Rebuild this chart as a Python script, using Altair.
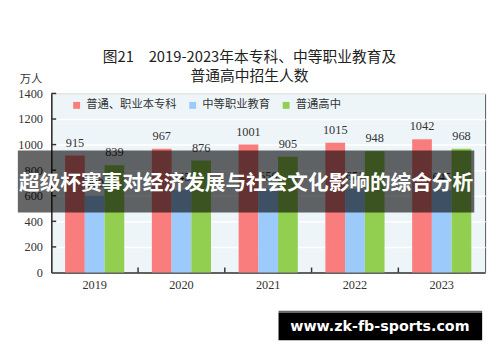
import altair as alt
import pandas as pd

years = ["2019", "2020", "2021", "2022", "2023"]
series = ["普通、职业本专科", "中等职业教育", "普通高中"]
higher_edu = [915, 967, 1001, 1015, 1042]
secondary_voc = [600, 645, 656, 651, 645]
high_school = [839, 876, 905, 948, 968]
colors = ["#fa7d7d", "#9ccafb", "#92cf50"]
y_ticks = [0, 200, 400, 600, 800, 1000, 1200, 1400]
title_lines = ["图21　2019-2023年本专科、中等职业教育及", "普通高中招生人数"]
banner_text = "超级杯赛事对经济发展与社会文化影响的综合分析"
watermark_text = "www.zk-fb-sports.com"

rows = []
for vals, s in zip([higher_edu, secondary_voc, high_school], series):
    for yr, v in zip(years, vals):
        rows.append({"year": yr, "series": s, "value": v})
df = pd.DataFrame(rows)

W, H = 441, 182
serif = "Liberation Serif, Noto Sans CJK SC"
cjk = "Noto Sans CJK SC"

x_scale = alt.Scale(domain=years, paddingInner=0, paddingOuter=0)
x_axis = alt.Axis(title=None, labelFont=serif, labelFontSize=12.5, labelColor="#333",
                  labelPadding=6, ticks=False, domainColor="#333", domainWidth=1.5,
                  labelAngle=0, grid=False)
y_scale = alt.Scale(domain=[0, 1400])
y_axis = alt.Axis(values=y_ticks, format="d", title="万人", titleAngle=0, titleX=-21, titleY=-14,
                  titleAlign="center", titleBaseline="middle", titleFont=serif,
                  titleFontSize=11.5, titleFontWeight="normal", titleColor="#333",
                  labelFont=serif, labelFontSize=12.5, labelColor="#333", labelPadding=9,
                  ticks=False, grid=True, gridColor="white", gridWidth=1.5,
                  domainColor="#333", domainWidth=1.5)

x_enc = alt.X("year:N", scale=x_scale, axis=x_axis)
xoff = alt.XOffset("series:N", sort=series,
                   scale=alt.Scale(domain=series, paddingInner=0, paddingOuter=0.7))
y_enc = alt.Y("value:Q", scale=y_scale, axis=y_axis)
color = alt.Color("series:N", sort=series, scale=alt.Scale(domain=series, range=colors),
                  legend=alt.Legend(title=None, orient="none", legendX=20, legendY=6,
                                    direction="horizontal", symbolType="square",
                                    symbolSize=49, symbolStrokeWidth=0, labelFont=serif,
                                    labelFontSize=11.5, labelColor="#333", columnPadding=10,
                                    labelOffset=4, padding=0))

base = alt.Chart(df)
bars = base.mark_bar().encode(x=x_enc, xOffset=xoff, y=y_enc, color=color)
labels = base.mark_text(baseline="bottom", dy=-6, font=serif, fontSize=12.5, color="#333").encode(
    x=x_enc, xOffset=xoff, y=y_enc, text="value:Q")

xticks = alt.Chart(pd.DataFrame({"year": years[1:]})).mark_rule(color="#333", strokeWidth=1.5).encode(
    x=alt.X("year:N", bandPosition=0, scale=x_scale, axis=x_axis),
    y=alt.value(H), y2=alt.value(H - 5))
yticks = alt.Chart(pd.DataFrame({"value": y_ticks[1:]})).mark_rule(color="#333", strokeWidth=1.5).encode(
    y=alt.Y("value:Q", scale=y_scale, axis=y_axis),
    x=alt.value(0), x2=alt.value(5))

banner_df = pd.DataFrame({"t": [banner_text]})
banner_rect = alt.Chart(banner_df).mark_rect(color="black", opacity=0.6).encode(
    x=alt.value(-34), x2=alt.value(430), y=alt.value(58), y2=alt.value(121))
banner_txt = alt.Chart(banner_df).mark_text(color="white", font=cjk, fontSize=21,
                                            fontWeight="bold").encode(
    x=alt.value(198), y=alt.value(92), text="t:N")

wm_df = pd.DataFrame({"t": [watermark_text]})
wm_line = alt.Chart(wm_df).mark_rect(color="#666").encode(
    x=alt.value(231), x2=alt.value(438), y=alt.value(221), y2=alt.value(223))
wm_rect = alt.Chart(wm_df).mark_rect(color="black").encode(
    x=alt.value(231), x2=alt.value(438), y=alt.value(223), y2=alt.value(251))
wm_txt = alt.Chart(wm_df).mark_text(color="white", font="DejaVu Sans", fontSize=14.5,
                                    fontWeight="bold").encode(
    x=alt.value(334), y=alt.value(237), text="t:N")

chart = alt.layer(bars, labels, xticks, yticks, banner_rect, banner_txt,
                  wm_line, wm_rect, wm_txt).properties(
    width=W, height=H,
    title=alt.TitleParams(text=title_lines, font=cjk, fontSize=15, fontWeight="normal",
                          color="#222", anchor="middle", dx=-19, dy=18, offset=8,
                          lineHeight=19, frame="group"),
    autosize=alt.AutoSizeParams(type="none"),
    padding={"left": 44, "top": 84, "right": 7, "bottom": 80},
    background="white",
).configure_view(stroke="#555", strokeWidth=1, fill="#eef5f9")

chart.save("out.html", embed_options={"renderer": "svg", "actions": False})
